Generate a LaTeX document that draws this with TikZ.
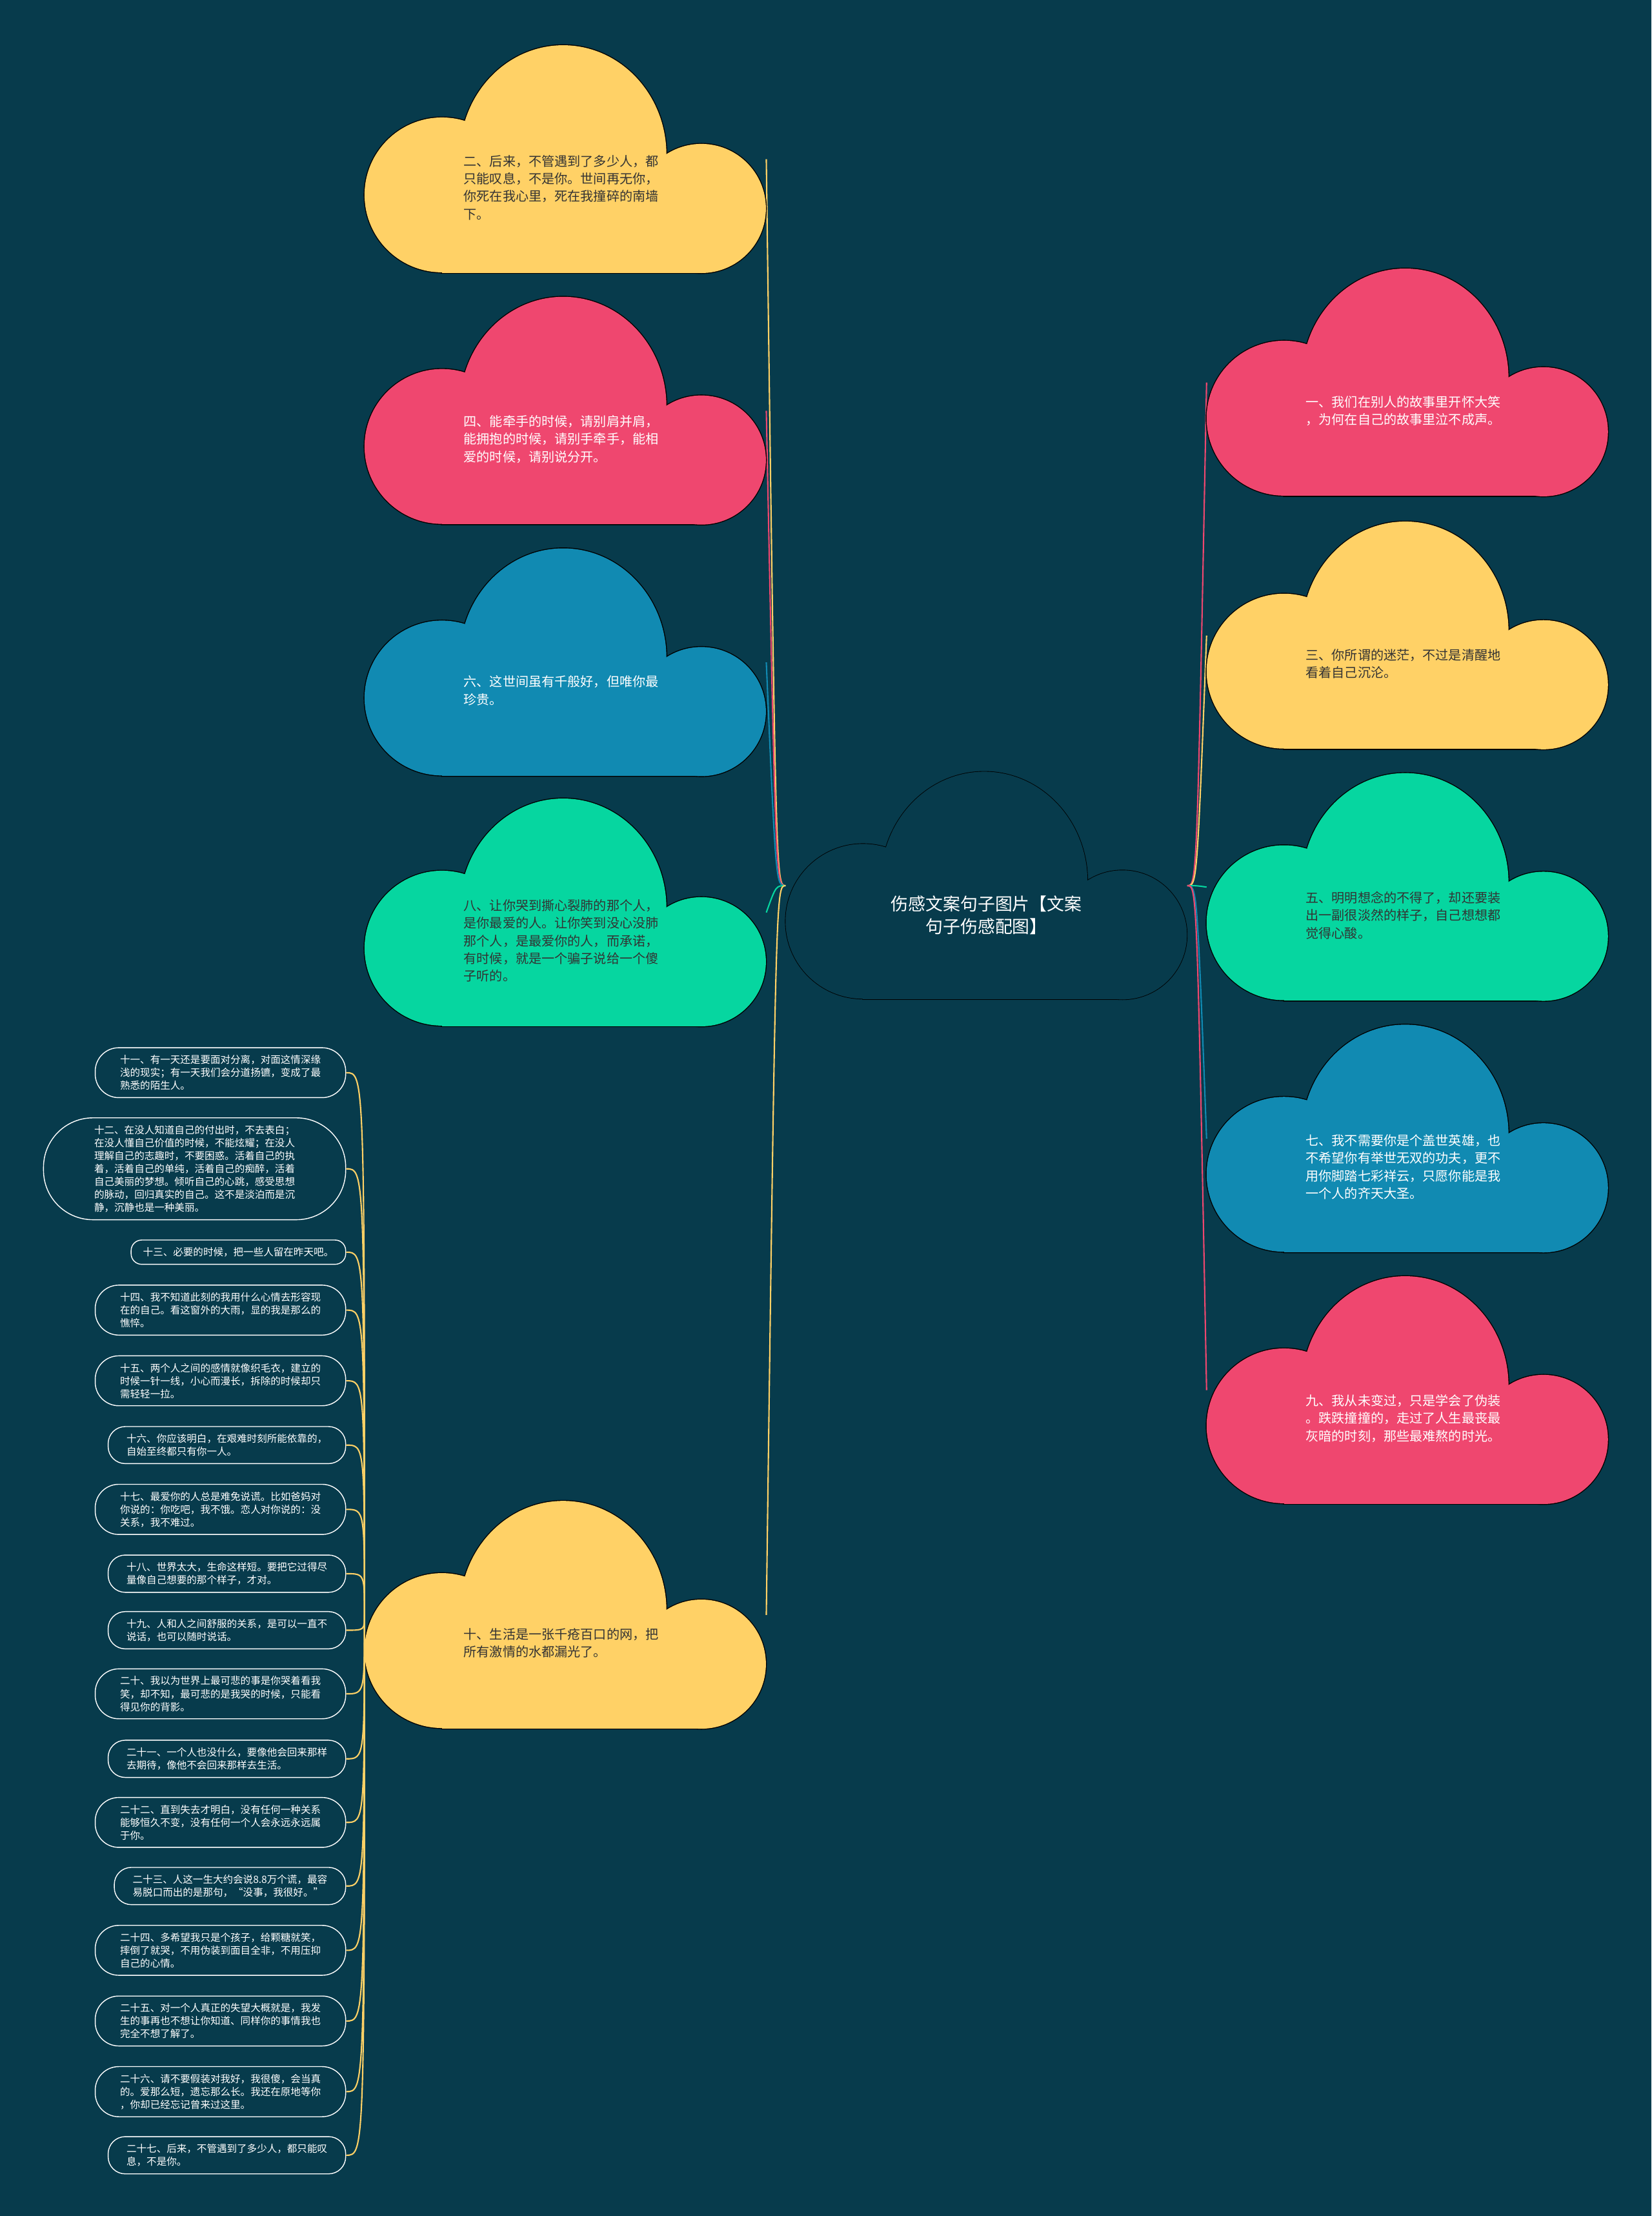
\documentclass[tikz,border=0pt]{standalone}
\usepackage{fontspec}
\setmainfont{Noto Sans CJK SC}
\usetikzlibrary{calc}

\definecolor{bgcol}{HTML}{073B4C}
\definecolor{pinkc}{HTML}{EF476F}
\definecolor{yellowc}{HTML}{FFD166}
\definecolor{greenc}{HTML}{06D6A0}
\definecolor{bluec}{HTML}{118AB2}
\colorlet{darktxt}{black!80}

\tikzset{
    cloudbox/.style={minimum width=12.4392cm, minimum height=7.0518cm, inner sep=0pt},
    cloudtxt/.style={font=\fontsize{11.45}{15.6}\selectfont, align=left, inner sep=0pt},
    centertxt/.style={font=\fontsize{15.3}{19.9}\selectfont, align=center, inner sep=0pt, text=white},
    listnode/.style={rectangle, draw=white, line width=0.8pt, text=white,
                     font=\fontsize{8.85}{11.4}\selectfont, align=left,
                     inner ysep=6.5pt, anchor=east},
    % pill ends: corner radius a bit under half the height
    lines1/.style={rounded corners=9.35pt, inner xsep=10.55pt},
    lines2/.style={rounded corners=15.05pt, inner xsep=16.25pt},
    lines3/.style={rounded corners=20.75pt, inner xsep=21.95pt},
    lines7/.style={rounded corners=43.55pt, inner xsep=44.75pt},
    conn/.style={line width=1.2pt}
}

% cloud body inside the box of a named node: outline first, then fill
\newcommand{\drawcloud}[3]{%
    \begin{scope}[shift={(#1.north west)}]
        \draw[line width=#3] (54.8,105.9) circle[radius=54.8]
            (238.4,115.5) circle[radius=45.7]
            (140.6,77.6) ellipse[x radius=73.1, y radius=77.6]
            (54.8,100) rectangle (238.4,161);
        \fill[#2] (54.8,105.9) circle[radius=54.8];
        \fill[#2] (238.4,115.5) circle[radius=45.7];
        \fill[#2] (140.6,77.6) ellipse[x radius=73.1, y radius=77.6];
        \fill[#2] (54.8,100) rectangle (238.4,161);
    \end{scope}}

\begin{document}
\begin{tikzpicture}[x=0.0438cm, y=-0.0438cm]
    % Background
    \fill[bgcol] (0,0) rectangle (1169,1568);
    \useasboundingbox (0,0) rectangle (1169,1568);

    % Cloud boxes
    \node[cloudbox, anchor=north west] (cc) at (556,546) {};
    \node[cloudbox, anchor=north west] (c2) at (258,32) {};
    \node[cloudbox, anchor=north west] (c4) at (258,210) {};
    \node[cloudbox, anchor=north west] (c6) at (258,388) {};
    \node[cloudbox, anchor=north west] (c8) at (258,565) {};
    \node[cloudbox, anchor=north west] (c10) at (258,1062) {};
    \node[cloudbox, anchor=north west] (c1) at (854,190) {};
    \node[cloudbox, anchor=north west] (c3) at (854,369) {};
    \node[cloudbox, anchor=north west] (c5) at (854,547) {};
    \node[cloudbox, anchor=north west] (c7) at (854,725) {};
    \node[cloudbox, anchor=north west] (c9) at (854,903) {};

    % Branches from the centre
    \foreach \nm/\col in {c2/yellowc, c4/pinkc, c6/bluec, c8/greenc, c10/yellowc}
        \draw[conn, \col] (cc.west) .. controls ($(cc.west)!0.5!(cc.west -| \nm.east)$) .. (\nm.east);
    \foreach \nm/\col in {c1/pinkc, c3/yellowc, c5/greenc, c7/bluec, c9/pinkc}
        \draw[conn, \col] (cc.east) .. controls ($(cc.east)!0.5!(cc.east -| \nm.west)$) .. (\nm.west);

    % Clouds
    \drawcloud{cc}{bgcol}{1pt}
    \foreach \nm/\col in {c2/yellowc, c4/pinkc, c6/bluec, c8/greenc, c10/yellowc,
                          c1/pinkc, c3/yellowc, c5/greenc, c7/bluec, c9/pinkc}
        {\drawcloud{\nm}{\col}{1.6pt}}

    % Cloud texts
    \node[centertxt] (cct) at ($(cc.center)+(0,21)$) {伤感文案句子图片【文案\\句子伤感配图】};
    \node[cloudtxt, text=darktxt] (c2t) at ($(c2.center)+(-3,20)$)
        {二、后来，不管遇到了多少人，都\\只能叹息，不是你。世间再无你，\\你死在我心里，死在我撞碎的南墙\\下。};
    \node[cloudtxt, text=white] (c4t) at ($(c4.center)+(-3,20)$)
        {四、能牵手的时候，请别肩并肩，\\能拥抱的时候，请别手牵手，能相\\爱的时候，请别说分开。};
    \node[cloudtxt, text=white] (c6t) at ($(c6.center)+(-3,20)$)
        {六、这世间虽有千般好，但唯你最\\珍贵。};
    \node[cloudtxt, text=darktxt] (c8t) at ($(c8.center)+(-3,20)$)
        {八、让你哭到撕心裂肺的那个人，\\是你最爱的人。让你笑到没心没肺\\那个人，是最爱你的人，而承诺，\\有时候，就是一个骗子说给一个傻\\子听的。};
    \node[cloudtxt, text=darktxt] (c10t) at ($(c10.center)+(-3,20)$)
        {十、生活是一张千疮百口的网，把\\所有激情的水都漏光了。};
    \node[cloudtxt, text=white] (c1t) at ($(c1.center)+(-3,20)$)
        {一、我们在别人的故事里开怀大笑\\，为何在自己的故事里泣不成声。};
    \node[cloudtxt, text=darktxt] (c3t) at ($(c3.center)+(-3,20)$)
        {三、你所谓的迷茫，不过是清醒地\\看着自己沉沦。};
    \node[cloudtxt, text=darktxt] (c5t) at ($(c5.center)+(-3,20)$)
        {五、明明想念的不得了，却还要装\\出一副很淡然的样子，自己想想都\\觉得心酸。};
    \node[cloudtxt, text=white] (c7t) at ($(c7.center)+(-3,20)$)
        {七、我不需要你是个盖世英雄，也\\不希望你有举世无双的功夫，更不\\用你脚踏七彩祥云，只愿你能是我\\一个人的齐天大圣。};
    \node[cloudtxt, text=white] (c9t) at ($(c9.center)+(-3,20)$)
        {九、我从未变过，只是学会了伪装\\。跌跌撞撞的，走过了人生最丧最\\灰暗的时刻，那些最难熬的时光。};

    % List under cloud ten
    \foreach \n/\yc/\st/\txt in {
        11/759/lines3/{十一、有一天还是要面对分离，对面这情深缘\\浅的现实；有一天我们会分道扬镳，变成了最\\熟悉的陌生人。},
        12/827/lines7/{十二、在没人知道自己的付出时，不去表白；\\在没人懂自己价值的时候，不能炫耀；在没人\\理解自己的志趣时，不要困惑。活着自己的执\\着，活着自己的单纯，活着自己的痴醉，活着\\自己美丽的梦想。倾听自己的心跳，感受思想\\的脉动，回归真实的自己。这不是淡泊而是沉\\静，沉静也是一种美丽。},
        13/886/lines1/{十三、必要的时候，把一些人留在昨天吧。},
        14/927/lines3/{十四、我不知道此刻的我用什么心情去形容现\\在的自己。看这窗外的大雨，显的我是那么的\\憔悴。},
        15/977/lines3/{十五、两个人之间的感情就像织毛衣，建立的\\时候一针一线，小心而漫长，拆除的时候却只\\需轻轻一拉。},
        16/1022.5/lines2/{十六、你应该明白，在艰难时刻所能依靠的，\\自始至终都只有你一人。},
        17/1068/lines3/{十七、最爱你的人总是难免说谎。比如爸妈对\\你说的：你吃吧，我不饿。恋人对你说的：没\\关系，我不难过。},
        18/1113.5/lines2/{十八、世界太大，生命这样短。要把它过得尽\\量像自己想要的那个样子，才对。},
        19/1153.5/lines2/{十九、人和人之间舒服的关系，是可以一直不\\说话，也可以随时说话。},
        20/1198.5/lines3/{二十、我以为世界上最可悲的事是你哭着看我\\笑，却不知，最可悲的是我哭的时候，只能看\\得见你的背影。},
        21/1244.5/lines2/{二十一、一个人也没什么，要像他会回来那样\\去期待，像他不会回来那样去生活。},
        22/1289.5/lines3/{二十二、直到失去才明白，没有任何一种关系\\能够恒久不变，没有任何一个人会永远永远属\\于你。},
        23/1334.5/lines2/{二十三、人这一生大约会说8.8万个谎，最容\\易脱口而出的是那句，“没事，我很好。”},
        24/1380/lines3/{二十四、多希望我只是个孩子，给颗糖就笑，\\摔倒了就哭，不用伪装到面目全非，不用压抑\\自己的心情。},
        25/1430/lines3/{二十五、对一个人真正的失望大概就是，我发\\生的事再也不想让你知道、同样你的事情我也\\完全不想了解了。},
        26/1480/lines3/{二十六、请不要假装对我好，我很傻，会当真\\的。爱那么短，遗忘那么长。我还在原地等你\\，你却已经忘记曾来过这里。},
        27/1525/lines2/{二十七、后来，不管遇到了多少人，都只能叹\\息，不是你。}} {
        \node[listnode, \st] (l\n) at (245,\yc) {\txt};
        \draw[conn, yellowc] (c10.west) .. controls (c10.west |- l\n.east) .. (l\n.east);
    }
\end{tikzpicture}
\end{document}
